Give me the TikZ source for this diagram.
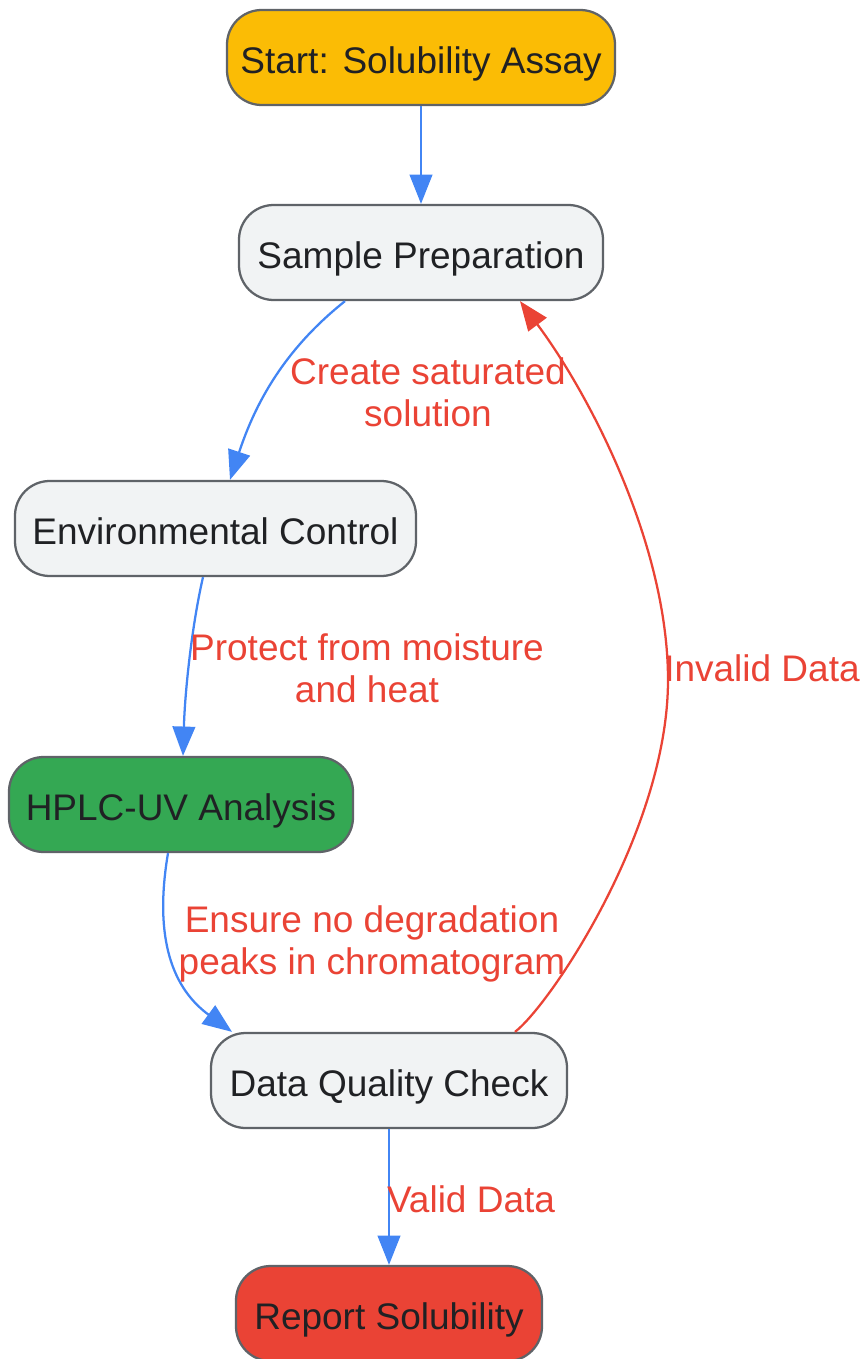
\documentclass[tikz,border=0pt]{standalone}
\usepackage{fontspec}
\setmainfont{Liberation Sans}
\usetikzlibrary{arrows.meta,calc}
\definecolor{cyellow}{HTML}{FBBC05}
\definecolor{cgrey}{HTML}{F1F3F4}
\definecolor{cborder}{HTML}{5F6368}
\definecolor{cgreen}{HTML}{34A853}
\definecolor{cred}{HTML}{EA4335}
\definecolor{cblue}{HTML}{4285F4}
\definecolor{ctext}{HTML}{202124}
\tikzset{
  box/.style={draw=cborder, line width=1.7pt, rounded corners=26pt, minimum height=71.25pt,
    text=ctext, font=\fontsize{27.75}{31.5}\selectfont, inner sep=0pt, text height=23.5pt, text depth=0pt},
  lbl/.style={text=cred, font=\fontsize{27.75}{31.5}\selectfont, align=center, inner sep=0pt},
  flow/.style={draw=cblue, line width=1.7pt, -{Triangle[length=22pt,width=17pt]}},
  back/.style={draw=cred, line width=1.7pt, -{Triangle[length=22pt,width=17pt]}},
}
\begin{document}
\begin{tikzpicture}[x=0.75pt,y=-0.75pt]
\useasboundingbox (0,0) rectangle (864,1359);
\node[box, fill=cyellow, minimum width=291pt] (st) at (421,57.5) {Start: Solubility Assay};
\node[box, fill=cgrey, minimum width=273pt] (sp) at (421,252.5) {Sample Preparation};
\node[box, fill=cgrey, minimum width=300.75pt] (ec) at (215.5,528.5) {Environmental Control};
\node[box, fill=cgreen, minimum width=258pt] (hp) at (181,804.5) {HPLC-UV Analysis};
\node[box, fill=cgrey, minimum width=267pt] (dq) at (389,1080.5) {Data Quality Check};
\node[box, fill=cred, minimum width=229.5pt] (rp) at (389,1313.5) {Report Solubility};

\draw[flow] (st.south) -- (sp.north);
\draw[flow] ($(sp.south)+(-76,0)$) .. controls (290,345) and (258,395) .. ($(ec.north)+(14.5,0)$);
\draw[flow] ($(ec.south)+(-12.5,0)$) .. controls (192,625) and (185,690) .. ($(hp.north)+(2,0)$);
\draw[flow] ($(hp.south)+(-13,0)$) .. controls (155,930) and (168,985) .. ($(dq.north)+(-157,0)$);
\draw[flow] (dq.south) -- (rp.north);
\draw[back] ($(dq.north)+(126,0)$) .. controls (550,1005) and (668,830) .. (668,680)
  .. controls (668,545) and (590,395) .. ($(sp.south)+(99,0)$);

\node[lbl] (l1) at (428,392) {Create saturated\\solution};
\node[lbl] (l2) at (367,668) {Protect from moisture\\and heat};
\node[lbl] (l3) at (372,944) {Ensure no degradation\\peaks in chromatogram};
\node[lbl] (l4) at (471,1199) {Valid Data};
\node[lbl] (l5) at (762,668) {Invalid Data};
\end{tikzpicture}
\end{document}
